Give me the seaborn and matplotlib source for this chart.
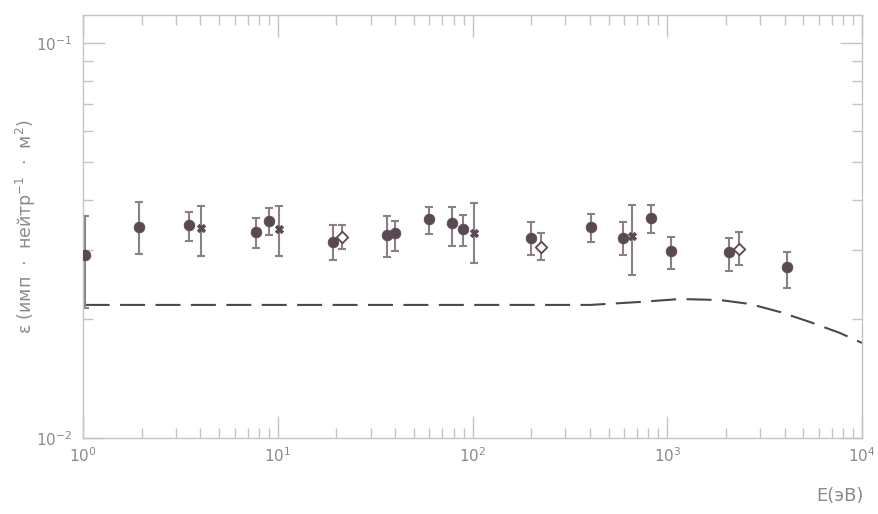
import numpy as np
import pandas as pd
import matplotlib
matplotlib.use("Agg")
import matplotlib.pyplot as plt
import seaborn as sns
from matplotlib.ticker import LogLocator, LogFormatterMathtext, NullFormatter

# ---- data ----
energy = [1.02, 1.94, 3.50, 4.04, 7.73, 9.02, 10.15, 19.2, 21.4, 36.4, 40.0,
          59.8, 78.5, 89.4, 101.8, 200, 225, 406, 593, 659, 825, 1045, 2076, 2336, 4120]
eff = [0.02906, 0.03421, 0.03461, 0.03401, 0.03323, 0.03543, 0.03382, 0.03135, 0.03228,
       0.03266, 0.03304, 0.03585, 0.03503, 0.03382, 0.03304, 0.03209, 0.03045, 0.03421,
       0.03209, 0.03247, 0.03606, 0.02974, 0.02957, 0.03009, 0.02710]
eff_hi = [0.03648, 0.03958, 0.03735, 0.03867, 0.03606, 0.03822, 0.03867, 0.03461, 0.03461,
          0.03648, 0.03543, 0.03844, 0.03844, 0.03670, 0.03935, 0.03524, 0.03304, 0.03691,
          0.03524, 0.03890, 0.03890, 0.03228, 0.03209, 0.03323, 0.02957]
eff_lo = [0.02134, 0.02923, 0.03153, 0.02889, 0.03027, 0.03266, 0.02889, 0.02822, 0.03009,
          0.02872, 0.02974, 0.03285, 0.03062, 0.03062, 0.02773, 0.02906, 0.02822, 0.03135,
          0.02906, 0.02586, 0.03304, 0.02678, 0.02647, 0.02741, 0.02397]
kind = ["filled", "filled", "filled", "cross", "filled", "filled", "cross", "filled", "open",
        "filled", "filled", "filled", "filled", "filled", "cross", "filled", "open", "filled",
        "filled", "cross", "filled", "filled", "filled", "open", "filled"]

calc_energy = [1.02, 13.0, 401, 724, 1161, 1866, 2661, 3793, 5407, 7708, 10000]
calc_eff = [0.02172, 0.02172, 0.02172, 0.02210, 0.02248, 0.02235, 0.02184, 0.02084,
            0.01966, 0.01844, 0.01740]

xtick_vals = [1, 10, 100, 1000, 10000]
ytick_vals = [0.01, 0.1]

df = pd.DataFrame({"E": energy, "eff": eff, "hi": eff_hi, "lo": eff_lo, "kind": kind})
calc = pd.DataFrame({"E": calc_energy, "eff": calc_eff})

sns.set_theme(style="white")
plt.rcParams["font.family"] = ["DejaVu Sans"]

fig = plt.figure(figsize=(8.79, 5.14), dpi=100)
ax = fig.add_axes([0.0944, 0.1479, 0.8863, 0.8229])
ax.set_xscale("log")
ax.set_yscale("log")

pt_col = "#5a4852"
err_col = "#8c8088"
axis_col = "#c4c4c4"
text_col = "#8a8a8a"

# calculated curve
sns.lineplot(data=calc, x="E", y="eff", ax=ax, color="#4a4a4a", lw=1.5,
             estimator=None, sort=False)
ax.lines[-1].set_dashes([12, 5])

# error bars
for _, r in df.iterrows():
    ax.errorbar(r["E"], r["eff"], yerr=[[r["eff"] - r["lo"]], [r["hi"] - r["eff"]]],
                fmt="none", ecolor=err_col, elinewidth=1.5, capsize=3, capthick=1.5,
                zorder=2)

# points
for k in ["filled", "cross", "open"]:
    sub = df[df["kind"] == k]
    if k == "open":
        sns.scatterplot(data=sub, x="E", y="eff", marker="D", s=34, facecolor="white",
                        edgecolor=pt_col, linewidth=1.3, ax=ax, zorder=3)
    elif k == "cross":
        sns.scatterplot(data=sub, x="E", y="eff", marker="X", s=36, color=pt_col,
                        edgecolor=pt_col, linewidth=0.5, ax=ax, zorder=3)
    else:
        sns.scatterplot(data=sub, x="E", y="eff", marker="o", s=60, color=pt_col,
                        edgecolor=pt_col, linewidth=0.5, ax=ax, zorder=3)

ax.set_xlim(1, 10000)
ax.set_ylim(0.01, 10 ** (-1 + 28 / 395))

ax.xaxis.set_minor_locator(LogLocator(base=10, subs=np.arange(2, 10)))
ax.yaxis.set_minor_locator(LogLocator(base=10, subs=np.arange(2, 10)))
ax.set_xticks(xtick_vals)
ax.set_yticks(ytick_vals)
ax.xaxis.set_major_formatter(LogFormatterMathtext())
ax.yaxis.set_major_formatter(LogFormatterMathtext())
ax.xaxis.set_minor_formatter(NullFormatter())
ax.yaxis.set_minor_formatter(NullFormatter())

ax.tick_params(which="both", direction="in", top=True, right=True, bottom=True, left=True,
               colors=axis_col, labelcolor=text_col, labelsize=11)
ax.tick_params(which="major", length=16, width=1.0)
ax.tick_params(which="minor", length=7, width=1.0)
ax.tick_params(axis="y", which="major", pad=8)
ax.tick_params(axis="x", which="major", pad=6)
for s in ax.spines.values():
    s.set_color(axis_col)
    s.set_linewidth(1.0)

ax.set_xlabel("")
ax.set_ylabel("ε (имп  ·  нейтр$^{-1}$  ·  м$^{2}$)", color=text_col, fontsize=12.5)
ax.yaxis.set_label_coords(-0.058, 0.5)
fig.text(0.955, 0.035, "E(эВ)", color=text_col, fontsize=13, ha="center", va="center")

fig.savefig("out.png", dpi=100, facecolor="white")
